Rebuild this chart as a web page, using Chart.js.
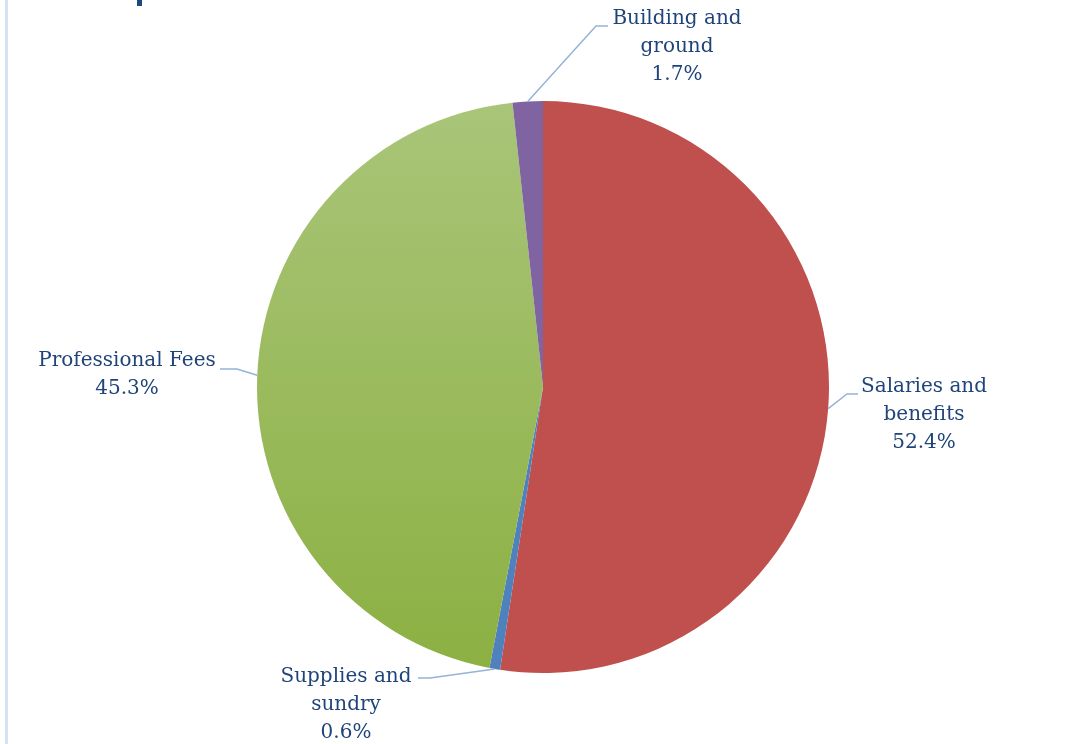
<!DOCTYPE html>
<html>
<head>
<meta charset="utf-8">
<script src="https://cdn.jsdelivr.net/npm/chart.js@4.4.3/dist/chart.umd.min.js"></script>
<style>
  html, body { margin: 0; padding: 0; background: #fff; }
  #wrap { position: relative; width: 1065px; height: 744px; }
  #wrap::before {
    content: ''; position: absolute; left: 5px; top: 0; width: 3px; height: 744px;
    background: #d6e2f1;
  }
</style>
</head>
<body>
<div id="wrap"><canvas id="chart" width="1065" height="744"></canvas></div>
<script>
// expense split, percent of total
const categories = ['Salaries and benefits', 'Supplies and sundry', 'Professional Fees', 'Building and ground'];
const labelLines = [['Salaries and', 'benefits'], ['Supplies and', 'sundry'], ['Professional Fees'], ['Building and', 'ground']];
const shares = [52.4, 0.6, 45.3, 1.7];
const sliceColors = ['#c0504d', '#4f81bd', 'gradient', '#8064a2'];

// where each callout sits: text centre x, first line y, elbow and end of leader line
const callouts = [
  { x: 924, y: 387, elbow: [847, 394], end: [858, 394] },
  { x: 346, y: 677, elbow: [430, 678], end: [418, 678] },
  { x: 127, y: 361, elbow: [237, 369], end: [220, 369] },
  { x: 677, y: 19, elbow: [596, 26], end: [608, 26] }
];

const textColor = '#1f4479';
const leaderColor = '#95b3d7';
const font = '20px "DejaVu Serif"';
const lineGap = 28;

function sliceFill(ctx) {
  const c = sliceColors[ctx.dataIndex];
  if (c !== 'gradient') return c;
  const area = ctx.chart.chartArea;
  if (!area) return '#9bbb59';
  const g = ctx.chart.ctx.createLinearGradient(0, area.top, 0, area.bottom);
  g.addColorStop(0, '#a9c579');
  g.addColorStop(1, '#8cb042');
  return g;
}

const calloutPlugin = {
  id: 'callouts',
  afterDatasetsDraw(chart) {
    const ctx = chart.ctx;
    const meta = chart.getDatasetMeta(0);
    ctx.save();
    meta.data.forEach((arc, i) => {
      const p = arc.getProps(['x', 'y', 'startAngle', 'endAngle', 'outerRadius']);
      const mid = (p.startAngle + p.endAngle) / 2;
      const ax = p.x + Math.cos(mid) * p.outerRadius;
      const ay = p.y + Math.sin(mid) * p.outerRadius;
      const c = callouts[i];
      ctx.strokeStyle = leaderColor;
      ctx.lineWidth = 1.5;
      ctx.beginPath();
      ctx.moveTo(ax, ay);
      ctx.lineTo(c.elbow[0], c.elbow[1]);
      ctx.lineTo(c.end[0], c.end[1]);
      ctx.stroke();

      ctx.fillStyle = textColor;
      ctx.font = font;
      ctx.textAlign = 'center';
      ctx.textBaseline = 'middle';
      const lines = labelLines[i].concat([shares[i].toFixed(1) + '%']);
      lines.forEach((t, k) => ctx.fillText(t, c.x, c.y + k * lineGap));
    });
    // bottom of a heading glyph clipped by the top edge
    ctx.fillStyle = '#1f497d';
    ctx.fillRect(137, 0, 5, 6);
    ctx.restore();
  }
};

new Chart(document.getElementById('chart'), {
  type: 'pie',
  data: {
    labels: categories,
    datasets: [{
      data: shares,
      backgroundColor: sliceFill,
      borderWidth: 0
    }]
  },
  options: {
    responsive: false,
    animation: false,
    layout: { padding: { top: 101, bottom: 71, left: 21, right: 0 } },
    plugins: {
      legend: { display: false },
      tooltip: { enabled: false }
    }
  },
  plugins: [calloutPlugin]
});
</script>
</body>
</html>
